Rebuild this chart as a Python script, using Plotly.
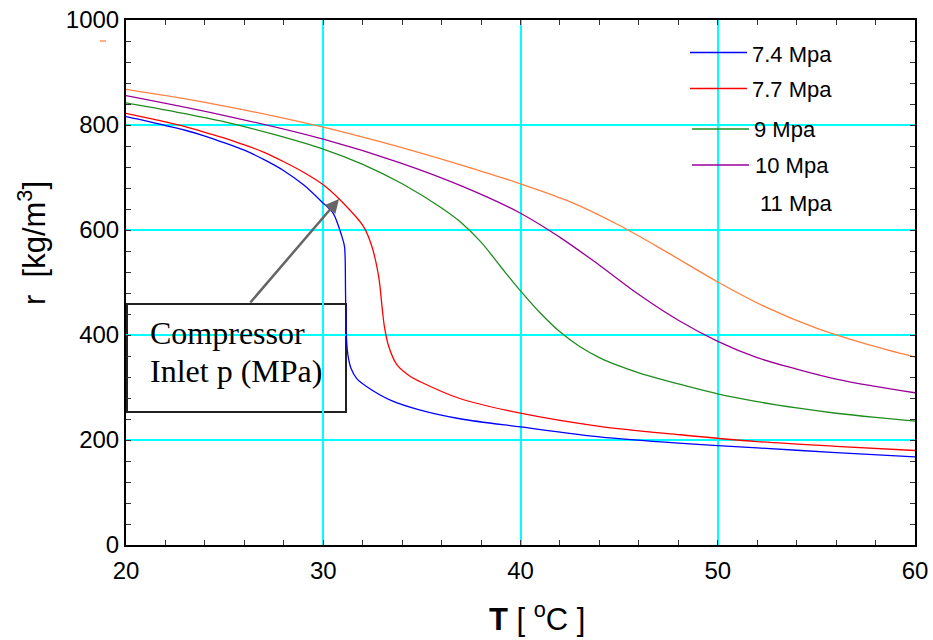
import plotly.graph_objects as go

# ---------------- data ----------------
T_74 = [20, 21, 22, 23, 24, 25, 26, 27, 28, 29, 30, 30.5, 30.95, 31.08, 31.13, 31.17, 31.25, 31.4, 31.7, 32.23, 33.4, 34.92, 37, 40, 44, 48, 52, 56, 60]
rho_74 = [816, 808, 799, 790, 779, 766, 752, 734, 713, 686, 651, 632, 587, 568, 480, 400, 362, 337, 317, 301, 276, 257, 240, 225, 206, 194, 185, 176, 168]

T_77 = [20, 21, 22, 23, 24, 25, 26, 27, 28, 29, 30, 30.86, 32.05, 32.47, 32.81, 32.98, 33.1, 33.32, 33.74, 34.42, 34.92, 36.85, 40, 44, 48.1, 52, 56, 60]
rho_77 = [822, 814, 806, 797, 786, 775, 762, 748, 730, 710, 686, 657, 606, 568, 511, 454, 416, 378, 343, 321, 311, 280, 251, 226, 210, 197, 188, 180]

T_9 = [20, 22.5, 25, 27.5, 30, 32, 34, 36, 37, 38, 39, 40, 41, 42, 43, 44, 45, 46, 47, 48, 50, 52, 54, 56, 58, 60]
rho_9 = [842, 825, 806, 782, 754, 725, 688, 642, 614, 577, 530, 484, 442, 406, 378, 357, 341, 328, 317, 307, 288, 273, 261, 251, 243, 236]

T_10 = [20, 25, 30, 33.9, 37, 40, 42, 44, 46, 48, 50, 52, 54, 56, 58, 60]
rho_10 = [856, 818, 773, 728, 684, 632, 586, 533, 477, 428, 388, 357, 335, 316, 302, 290]

T_11 = [20, 22.5, 25, 27.5, 30, 32.5, 35, 37.5, 40, 42.5, 45, 47.5, 50, 52.5, 55, 57.5, 60]
rho_11 = [868, 853, 836, 817, 796, 772, 746, 718, 688, 654, 609, 556, 501, 452, 413, 383, 358]

series_names = ["7.4 Mpa", "7.7 Mpa", "9 Mpa", "10 Mpa", "11 Mpa"]
series_T = [T_74, T_77, T_9, T_10, T_11]
series_rho = [rho_74, rho_77, rho_9, rho_10, rho_11]
series_colors = ["#0000FF", "#FF0000", "#1E8C1E", "#990099", "#FF8040"]
series_smooth = [0.8, 0.9, 1.0, 1.0, 1.0]

x_ticks = [20, 30, 40, 50, 60]
y_ticks = [0, 200, 400, 600, 800, 1000]

# ---------------- layout geometry (pixels) ----------------
W, H = 933, 640
L, R, T, B = 126, 18, 20, 95
PW, PH = W - L - R, H - T - B


def px_x(p):
    return (p - L) / PW


def px_y(p):
    return (H - B - p) / PH


fig = go.Figure()
for name, tx, ry, col, sm in zip(series_names, series_T, series_rho, series_colors, series_smooth):
    fig.add_trace(go.Scatter(x=tx, y=ry, mode="lines", name=name,
                             line=dict(color=col, width=1.3, shape="spline", smoothing=sm),
                             showlegend=False))

shapes = []
annotations = []

# white boxes behind legend entries (cover gridlines)
entry_boxes = [(38, 67), (75, 97), (117, 137), (145, 172), (185, 217)]
for (a, b) in entry_boxes:
    shapes.append(dict(type="rect", xref="paper", yref="paper", layer="between",
                       x0=px_x(690), x1=px_x(813), y0=px_y(b), y1=px_y(a),
                       fillcolor="white", line=dict(width=0)))

# legend line samples and labels
legend_lines = [(690, 747, 52.5), (690, 747, 88.5), (692, 749, 129), (692, 749, 165)]
for (x0, x1, yy), col in zip(legend_lines, series_colors[:4]):
    shapes.append(dict(type="line", xref="paper", yref="paper", layer="above",
                       x0=px_x(x0), x1=px_x(x1), y0=px_y(yy), y1=px_y(yy),
                       line=dict(color=col, width=1.3)))
# stray 11 Mpa sample (top-left, outside the plot as in reference)
shapes.append(dict(type="line", xref="paper", yref="paper", layer="above",
                   x0=px_x(100), x1=px_x(106), y0=px_y(41), y1=px_y(41),
                   line=dict(color=series_colors[4], width=1.3)))

legend_text_pos = [(750, 55), (750, 89.5), (752, 129), (753, 165.5), (758, 203.5)]
for (xx, yy), name in zip(legend_text_pos, series_names):
    annotations.append(dict(text=name, xref="paper", yref="paper", x=px_x(xx), y=px_y(yy),
                            xanchor="left", yanchor="middle", showarrow=False,
                            font=dict(family="Liberation Sans, Arial", size=22, color="black")))

# annotation box
shapes.append(dict(type="rect", xref="paper", yref="paper", layer="between",
                   x0=px_x(127), x1=px_x(346), y0=px_y(412), y1=px_y(304),
                   fillcolor="white", line=dict(color="#222222", width=2)))
annotations.append(dict(text="Compressor", xref="paper", yref="paper", x=px_x(148), y=px_y(333),
                        xanchor="left", yanchor="middle", showarrow=False,
                        font=dict(family="Liberation Serif, Times New Roman", size=32, color="black")))
annotations.append(dict(text="Inlet p (MPa)", xref="paper", yref="paper", x=px_x(148), y=px_y(371),
                        xanchor="left", yanchor="middle", showarrow=False,
                        font=dict(family="Liberation Serif, Times New Roman", size=32, color="black")))
# arrow
annotations.append(dict(text="", x=30.8, y=659, xref="x", yref="y",
                        ax=26.24, ay=459, axref="x", ayref="y",
                        showarrow=True, arrowhead=2, arrowsize=1.1, arrowwidth=2.5,
                        arrowcolor="#666666"))

# axis titles
annotations.append(dict(text="<b>T</b> [ <sup>o</sup>C ]", xref="paper", yref="paper",
                        x=px_x(537), y=px_y(617), xanchor="center", yanchor="middle", showarrow=False,
                        font=dict(family="Liberation Sans, Arial", size=31, color="black")))
annotations.append(dict(text="r  [kg/m<sup>3</sup>]", xref="paper", yref="paper",
                        x=px_x(32), y=px_y(243), xanchor="center", yanchor="middle", showarrow=False,
                        textangle=-90,
                        font=dict(family="Liberation Sans, Arial", size=31, color="black")))

axis_common = dict(showline=True, linecolor="black", linewidth=2, mirror="ticks",
                   ticks="inside", ticklen=5, tickwidth=1, tickcolor="#333333",
                   showgrid=True, gridcolor="#00FFFF", gridwidth=1.5, zeroline=False,
                   automargin=False,
                   tickfont=dict(family="Liberation Sans, Arial", size=24, color="black"))

fig.update_layout(
    width=W, height=H, autosize=False,
    margin=dict(l=L, r=R, t=T, b=B, pad=0),
    paper_bgcolor="white", plot_bgcolor="white",
    xaxis=dict(range=[20, 60], tickvals=x_ticks, ticklabelstandoff=3,
               minor=dict(dtick=2, ticks="inside", ticklen=5, tickcolor="#333333", showgrid=False),
               **axis_common),
    yaxis=dict(range=[0, 1000], tickvals=y_ticks,
               minor=dict(dtick=40, ticks="inside", ticklen=5, tickcolor="#333333", showgrid=False),
               **axis_common),
    shapes=shapes, annotations=annotations,
)

fig.write_html("out.html")
